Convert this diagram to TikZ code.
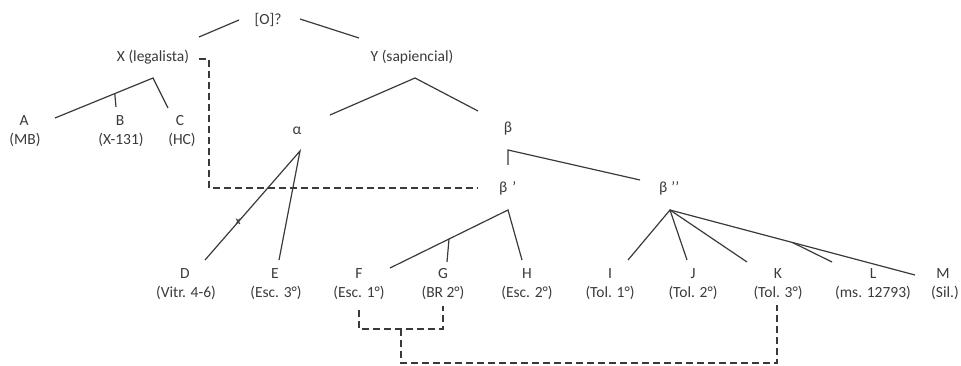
\documentclass[tikz,border=0pt]{standalone}
\usepackage{fontspec}
\setmainfont{Carlito}
\usetikzlibrary{calc}
\definecolor{ink}{HTML}{3A3A3A}
\begin{document}
\begin{tikzpicture}[x=1pt,y=-1pt,
  every node/.style={inner sep=0pt, text=ink, font=\fontsize{15.5}{18}\selectfont, text height=10pt, text depth=3pt},
  link/.style={draw=ink, line width=1.2pt},
  contam/.style={draw=ink, line width=1.2pt, dash pattern=on 7pt off 4pt},
  tiny/.style={font=\fontsize{11}{12}\selectfont\bfseries, text height=5pt, text depth=0pt}]
\useasboundingbox (0,0) rectangle (961,366);
% nodes
\node (O) at (268,21) {[O]?};
\node (X) at (153,58) {X (legalista)};
\node (Y) at (412,58) {Y (sapiencial)};
\node (A) at (24,122) {A};   \node (Aw) at (25,141) {(MB)};
\node (B) at (120,122) {B};  \node (Bw) at (121,141) {(X-131)};
\node (C) at (180,122) {C};  \node (Cw) at (182,141) {(HC)};
\node (al) at (297,131) {α};
\node (be) at (508,129) {β};
\node[anchor=west] (bp) at (499,189) {β\hspace{5pt}’};
\node[anchor=west] (bpp) at (659,189) {β\hspace{4pt}’’};
\node (D) at (185,275) {D};  \node (Dw) at (186,294) {(Vitr. 4-6)};
\node (E) at (275,275) {E};  \node (Ew) at (276,294) {(Esc. 3°)};
\node (F) at (359,275) {F};  \node (Fw) at (359,294) {(Esc. 1°)};
\node (G) at (443,275) {G};  \node (Gw) at (443,294) {(BR 2°)};
\node (H) at (527,275) {H};  \node (Hw) at (527,294) {(Esc. 2°)};
\node (I) at (610,275) {I};  \node (Iw) at (610,294) {(Tol. 1°)};
\node (J) at (693,275) {J};  \node (Jw) at (693,294) {(Tol. 2°)};
\node (K) at (778,275) {K};  \node (Kw) at (778,294) {(Tol. 3°)};
\node (L) at (873,275) {L};  \node (Lw) at (873,294) {(ms. 12793)};
\node (M) at (943,275) {M};  \node (Mw) at (945,294) {(Sil.)};
% connector end points
\coordinate (Ol) at (239,20);  \coordinate (Xt) at (199,37);
\coordinate (Or) at (300,19);  \coordinate (Yt) at (359,38);
\coordinate (xap) at (153,78); \coordinate (xa) at (55,118);
\coordinate (xc) at (168,108); \coordinate (xb) at (116,107);
\coordinate (xbr) at ($(xap)!0.39!(xa)$);
\coordinate (yap) at (415,78); \coordinate (yal) at (330,115);
\coordinate (ybe) at (478,111);
\coordinate (aap) at (300,151); \coordinate (ad) at (205,260);
\coordinate (ae) at (279,260);
\coordinate (bv) at (508,165); \coordinate (bvt) at (508,150);
\coordinate (bb) at (640,180);
\coordinate (bpap) at (508,210); \coordinate (bpf) at (390,268);
\coordinate (bph) at (522,260); \coordinate (bpg) at (447,262);
\coordinate (bpgr) at ($(bpap)!0.5!(bpf)$);
\coordinate (bppap) at (670,210); \coordinate (bi) at (628,260);
\coordinate (bj) at (687,260); \coordinate (bk) at (747,262);
\coordinate (bm) at (915,275); \coordinate (bl) at (832,262);
\coordinate (blr) at ($(bppap)!0.5!(bm)$);
% solid connectors
\draw[link] (Ol) -- (Xt);
\draw[link] (Or) -- (Yt);
\draw[link] (xa) -- (xap) -- (xc);
\draw[link] (xbr) -- (xb);
\draw[link] (yal) -- (yap) -- (ybe);
\draw[link] (ad) -- (aap) -- (ae);
\node[tiny] (cross) at ($(aap)!0.65!(ad)$) {x};
\draw[link] (bv) -- (bvt) -- (bb);
\draw[link] (bpf) -- (bpap) -- (bph);
\draw[link] (bpgr) -- (bpg);
\draw[link] (bi) -- (bppap) -- (bj);
\draw[link] (bppap) -- (bk);
\draw[link] (bppap) -- (bm);
\draw[link] (blr) -- (bl);
% dashed connectors
\coordinate (xd) at (199,59);
\coordinate (xdc) at (209,59);
\coordinate (xdb) at (209,188);
\coordinate (bpd) at (478,188);
\draw[contam] (xd) -- (xdc) -- (xdb) -- (bpd);
\coordinate (fd) at (359,310); \coordinate (fdb) at (359,329);
\coordinate (gd) at (443,306); \coordinate (gdb) at (443,329);
\coordinate (st) at (401,329); \coordinate (stb) at (401,363);
\coordinate (kdb) at (777,363); \coordinate (kd) at (777,305);
\draw[contam] (fd) -- (fdb) -- (gdb) -- (gd);
\draw[contam] (st) -- (stb) -- (kdb) -- (kd);
\end{tikzpicture}
\end{document}
